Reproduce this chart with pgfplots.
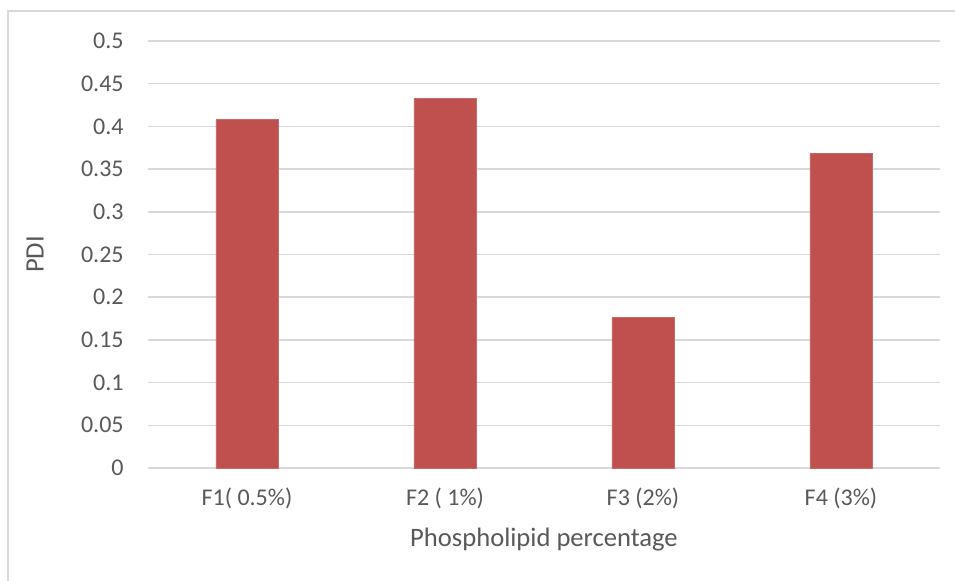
\documentclass[border=0pt]{standalone}
\usepackage{fontspec}
\setmainfont{Carlito}
\usepackage{pgfplots}
\pgfplotsset{compat=1.18}
\definecolor{barred}{HTML}{C0504D}
\definecolor{gridgray}{HTML}{D9D9D9}
\definecolor{txtgray}{HTML}{595959}
\begin{document}
\begin{tikzpicture}[x=1pt,y=1pt]
\useasboundingbox (0,0) rectangle (477.5,290.5);
\clip (0,0) rectangle (477.5,290.5);
\fill[white] (0,0) rectangle (477.5,290.5);
\draw[gridgray, line width=0.75pt] (4,-10) rectangle (490,285);
\begin{axis}[
  at={(74pt,56.5pt)}, anchor=south west,
  scale only axis,
  width=396pt, height=213.5pt,
  xmin=-0.5, xmax=3.5,
  ymin=0, ymax=0.5,
  xtick={0,1,2,3},
  xticklabels={F1( 0.5\%), F2 ( 1\%), F3 (2\%), F4 (3\%)},
  ytick={0,0.05,...,0.5},
  yticklabels={0,0.05,0.1,0.15,0.2,0.25,0.3,0.35,0.4,0.45,0.5},
  axis line style={draw=none},
  major tick length=0pt,
  ymajorgrids,
  grid style={gridgray, line width=0.75pt},
  /pgf/number format/assume math mode=true,
  tick label style={font=\fontsize{12}{14}\selectfont, text=txtgray},
  y tick label style={anchor=east, inner sep=0pt, xshift=-12pt},
  x tick label style={anchor=center, inner sep=0pt, yshift=-15pt},
  label style={font=\fontsize{13.3}{15}\selectfont, text=txtgray},
  xlabel={Phospholipid percentage},
  ylabel={PDI},
  xlabel style={at={(axis description cs:0.5,-0.1686)}, anchor=center, inner sep=0pt},
  ylabel style={at={(axis description cs:-0.1427,0.5)}, anchor=center, inner sep=0pt},
  clip=false,
]
\addplot[ybar, bar width=31pt, fill=barred, draw=barred!85!white, line width=0.4pt]
  coordinates {(0,0.408) (1,0.433) (2,0.1765) (3,0.368)};
\end{axis}
\end{tikzpicture}
\end{document}
